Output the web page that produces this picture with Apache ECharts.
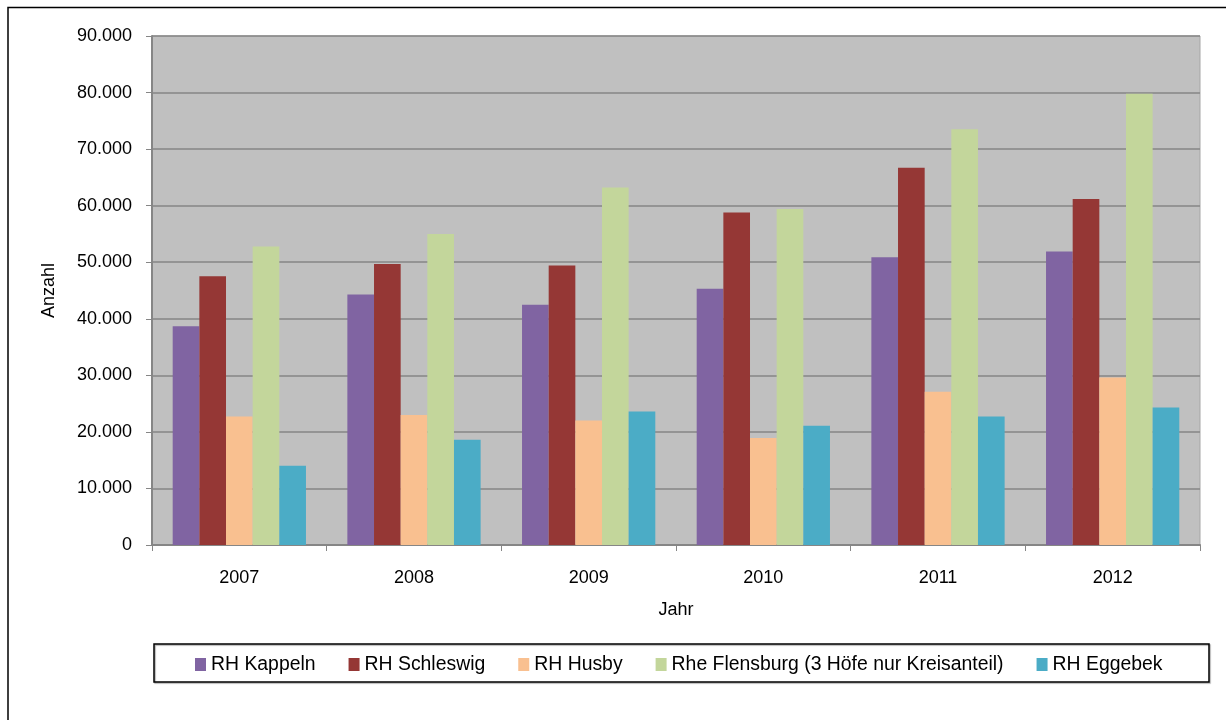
<!DOCTYPE html>
<html>
<head>
<meta charset="utf-8">
<script src="https://cdn.jsdelivr.net/npm/echarts@6/dist/echarts.min.js"></script>
<style>
  html, body { margin: 0; padding: 0; background: #ffffff; }
  #chart { width: 1226px; height: 720px; }
</style>
</head>
<body>
<div id="chart"></div>
<script>
// Jahre auf der Kategorieachse
const years = ['2007', '2008', '2009', '2010', '2011', '2012'];

// Anzahl je Standort und Jahr
const kappeln   = [38700, 44300, 42500, 45300, 50900, 51900];
const schleswig = [47500, 49700, 49400, 58800, 66700, 61200];
const husby     = [22700, 23000, 22000, 18900, 27100, 29600];
const flensburg = [52800, 55000, 63200, 59400, 73500, 79800];
const eggebek   = [14000, 18600, 23600, 21100, 22700, 24300];

const seriesNames = [
  'RH Kappeln',
  'RH Schleswig',
  'RH Husby',
  'Rhe Flensburg (3 Höfe nur Kreisanteil)',
  'RH Eggebek'
];
const seriesData = [kappeln, schleswig, husby, flensburg, eggebek];
const colors = ['#8064A2', '#953735', '#F9C090', '#C3D69B', '#4BACC6'];

const FONT = 'Liberation Sans, Arial, sans-serif';

function fmt(v) {
  return String(v).replace(/\B(?=(\d{3})+(?!\d))/g, '.');
}

const chart = echarts.init(document.getElementById('chart'), null, { renderer: 'canvas' });

chart.setOption({
  animation: false,
  backgroundColor: '#ffffff',
  color: colors,
  grid: {
    left: 152, right: 26, top: 36, bottom: 175,
    show: true,
    backgroundColor: '#C0C0C0',
    borderColor: '#A6A6A6',
    borderWidth: 1
  },
  legend: {
    data: seriesNames,
    left: 190,
    top: 650,
    itemWidth: 11,
    itemHeight: 13,
    itemGap: 33,
    icon: 'rect',
    textStyle: { fontFamily: FONT, fontSize: 19.4, color: '#000000' }
  },
  xAxis: {
    type: 'category',
    data: years,
    name: 'Jahr',
    nameLocation: 'middle',
    nameGap: 56,
    nameTextStyle: { fontFamily: FONT, fontSize: 18, color: '#000000' },
    axisLine: { lineStyle: { color: '#868686', width: 2 } },
    axisTick: { show: true, length: 6, lineStyle: { color: '#868686', width: 1 } },
    axisLabel: { fontFamily: FONT, fontSize: 18, color: '#000000', margin: 24 },
    splitLine: { show: false }
  },
  yAxis: {
    type: 'value',
    min: 0,
    max: 90000,
    interval: 10000,
    name: 'Anzahl',
    nameLocation: 'middle',
    nameGap: 94,
    nameRotate: 90,
    nameTextStyle: { fontFamily: FONT, fontSize: 18, color: '#000000' },
    axisLine: { show: true, lineStyle: { color: '#868686', width: 2 } },
    axisTick: { show: true, length: 6, lineStyle: { color: '#868686', width: 1 } },
    axisLabel: { fontFamily: FONT, fontSize: 18, color: '#000000', margin: 20, formatter: fmt },
    splitLine: { show: true, lineStyle: { color: '#868686', width: 1.5 } }
  },
  series: seriesNames.map((name, i) => ({
    name: name,
    type: 'bar',
    data: seriesData[i],
    barGap: '0%',
    barCategoryGap: '23.7%',
    itemStyle: { color: colors[i] }
  })),
  graphic: [
    // Rahmen des Diagrammbereichs (oben und links)
    {
      type: 'polyline',
      silent: true,
      shape: { points: [[8, 720], [8, 7.5], [1226, 7.5]] },
      style: { stroke: '#000000', lineWidth: 1.5, fill: null }
    },
    // Rahmen der Legende
    {
      type: 'rect',
      silent: true,
      shape: { x: 154, y: 644, width: 1055, height: 38 },
      style: { stroke: '#000000', lineWidth: 1.5, fill: null,
               shadowColor: 'rgba(0,0,0,0.35)', shadowOffsetX: 1, shadowOffsetY: 1, shadowBlur: 1 },
      z: 0
    }
  ]
});
</script>
</body>
</html>
